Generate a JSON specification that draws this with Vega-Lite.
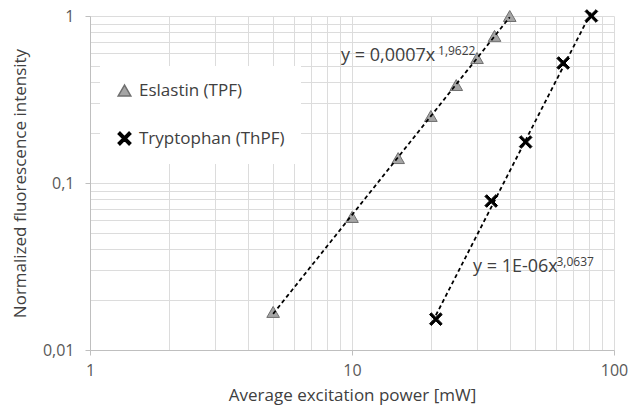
{
  "$schema": "https://vega.github.io/schema/vega-lite/v6.json",
  "width": 524,
  "height": 334,
  "autosize": "none",
  "padding": {"left": 90, "top": 16, "right": 15, "bottom": 66},
  "background": "white",
  "config": {
    "font": "Open Sans",
    "view": {"stroke": null},
    "axis": {"labelFont": "Open Sans", "titleFont": "Open Sans", "titleFontWeight": "normal", "labelColor": "#595959", "titleColor": "#404040", "labelFontSize": 16, "titleFontSize": 17, "gridColor": "#dcdcdc", "gridWidth": 1, "domainColor": "#bfbfbf", "tickColor": "#bfbfbf", "labelOverlap": false, "labelFlush": false}
  },
  "datasets": {
    "pts": [
      {"series": "Eslastin (TPF)", "power": 5, "intensity": 0.0169},
      {"series": "Eslastin (TPF)", "power": 10, "intensity": 0.0626},
      {"series": "Eslastin (TPF)", "power": 15, "intensity": 0.141},
      {"series": "Eslastin (TPF)", "power": 20, "intensity": 0.252},
      {"series": "Eslastin (TPF)", "power": 25, "intensity": 0.386},
      {"series": "Eslastin (TPF)", "power": 30, "intensity": 0.56},
      {"series": "Eslastin (TPF)", "power": 35, "intensity": 0.76},
      {"series": "Eslastin (TPF)", "power": 40, "intensity": 1.0},
      {"series": "Tryptophan (ThPF)", "power": 20.9, "intensity": 0.0153},
      {"series": "Tryptophan (ThPF)", "power": 34, "intensity": 0.078},
      {"series": "Tryptophan (ThPF)", "power": 46, "intensity": 0.176},
      {"series": "Tryptophan (ThPF)", "power": 64, "intensity": 0.523},
      {"series": "Tryptophan (ThPF)", "power": 82, "intensity": 1.0}
    ],
    "notes": [
      {"main": "y = 0,0007x", "sup": "1,9622", "mx": 9.08, "my": 0.576, "sx": 21.3, "sy": 0.621},
      {"main": "y = 1E-06x", "sup": "3,0637", "mx": 28.96, "my": 0.0314, "sx": 60.3, "sy": 0.0336}
    ]
  },
  "layer": [
    {
      "data": {"name": "pts"},
      "mark": {"type": "point", "filled": true, "size": 160, "strokeWidth": 1, "opacity": 1},
      "encoding": {
        "x": {"field": "power", "type": "quantitative", "scale": {"type": "log", "domain": [1, 100], "nice": false},
          "axis": {"title": "Average excitation power [mW]", "values": [1,2,3,4,5,6,7,8,9,10,20,30,40,50,60,70,80,90,100],
            "labelExpr": "datum.value == 1 || datum.value == 10 || datum.value == 100 ? datum.label : ''",
            "tickSize": {"condition": {"test": "datum.value == 1 || datum.value == 10 || datum.value == 100", "value": 5}, "value": 0},
            "labelPadding": 7, "titlePadding": 9}},
        "y": {"field": "intensity", "type": "quantitative", "scale": {"type": "log", "domain": [0.01, 1], "nice": false},
          "axis": {"title": "Normalized fluorescence intensity", "values": [0.01,0.02,0.03,0.04,0.05,0.06,0.07,0.08,0.09,0.1,0.2,0.3,0.4,0.5,0.6,0.7,0.8,0.9,1],
            "labelExpr": "datum.value == 1 ? '1' : datum.value == 0.1 ? '0,1' : datum.value == 0.01 ? '0,01' : ''",
            "tickSize": {"condition": {"test": "datum.value == 1 || datum.value == 0.1 || datum.value == 0.01", "value": 5}, "value": 0},
            "labelPadding": 11, "titlePadding": 13}},
        "shape": {"field": "series", "type": "nominal", "scale": {"domain": ["Eslastin (TPF)", "Tryptophan (ThPF)"], "range": ["triangle-up", "M-1,-0.72L-0.72,-1L0,-0.28L0.72,-1L1,-0.72L0.28,0L1,0.72L0.72,1L0,0.28L-0.72,1L-1,0.72L-0.28,0Z"]}, "legend": {"title": null}},
        "fill": {"field": "series", "type": "nominal", "scale": {"domain": ["Eslastin (TPF)", "Tryptophan (ThPF)"], "range": ["#a5a5a5", "#000000"]}, "legend": {"title": null}},
        "stroke": {"field": "series", "type": "nominal", "scale": {"domain": ["Eslastin (TPF)", "Tryptophan (ThPF)"], "range": ["#6f6f6f", "#000000"]}, "legend": {"title": null, "orient": "none", "legendX": 10, "legendY": 50, "fillColor": "white", "padding": 16, "labelFontSize": 17, "labelColor": "#404040", "labelFont": "Open Sans", "rowPadding": 30, "symbolSize": 160, "labelOffset": 6}}
      }
    },
    {
      "data": {"name": "pts"},
      "transform": [{"regression": "intensity", "on": "power", "method": "pow", "groupby": ["series"]}],
      "mark": {"type": "line", "color": "black", "strokeWidth": 1.8, "strokeDash": [4, 3]},
      "encoding": {
        "x": {"field": "power", "type": "quantitative"},
        "y": {"field": "intensity", "type": "quantitative"},
        "detail": {"field": "series"}
      }
    },
    {
      "data": {"name": "notes"},
      "mark": {"type": "text", "align": "left", "baseline": "middle", "fontSize": 18, "color": "#404040", "font": "Open Sans"},
      "encoding": {
        "x": {"field": "mx", "type": "quantitative"},
        "y": {"field": "my", "type": "quantitative"},
        "text": {"field": "main"}
      }
    },
    {
      "data": {"name": "notes"},
      "mark": {"type": "text", "align": "left", "baseline": "middle", "fontSize": 12, "color": "#404040", "font": "Open Sans"},
      "encoding": {
        "x": {"field": "sx", "type": "quantitative"},
        "y": {"field": "sy", "type": "quantitative"},
        "text": {"field": "sup"}
      }
    }
  ]
}
